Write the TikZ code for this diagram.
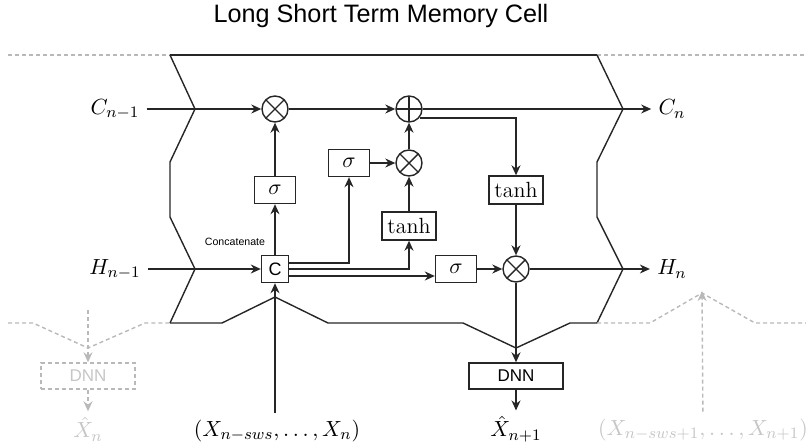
\documentclass[tikz,border=0pt]{standalone}
\usepackage{fontspec}
\setsansfont{Liberation Sans}
\usepackage{amsmath}
\usetikzlibrary{arrows.meta, calc, positioning}

\begin{document}
\begin{tikzpicture}[>={Stealth[length=5pt,width=4.5pt]}, x=0.5pt, y=-0.5pt,
    line width=0.7pt, draw=black!85,
    gate/.style={draw, minimum width=20.5pt, minimum height=13.5pt, inner sep=1pt, font=\fontsize{11}{13}\selectfont},
    tanhbox/.style={gate, minimum width=27pt, minimum height=14pt},
    catbox/.style={gate, minimum width=13.5pt, font=\sffamily\fontsize{9}{10}\selectfont},
    dnnbox/.style={gate, minimum width=47pt, minimum height=13pt, font=\sffamily\fontsize{8.5}{10}\selectfont},
    mul/.style={circle, draw, minimum size=13pt, inner sep=0pt,
        path picture={\draw ([shift={(45:7pt)}]path picture bounding box.center) -- ([shift={(225:7pt)}]path picture bounding box.center)
                            ([shift={(135:7pt)}]path picture bounding box.center) -- ([shift={(-45:7pt)}]path picture bounding box.center);}},
    add/.style={circle, draw, minimum size=13pt, inner sep=0pt,
        path picture={\draw (path picture bounding box.north) -- (path picture bounding box.south)
                            (path picture bounding box.west) -- (path picture bounding box.east);}},
    ghost/.style={gray!55, dash pattern=on 2pt off 1.5pt},
    ghosttext/.style={text=gray!45},
    lbl/.style={font=\fontsize{11}{13}\selectfont}]
    \useasboundingbox (0,0) rectangle (806,444);

    % titel
    \node[font=\sffamily\fontsize{12.6}{15}\selectfont] (title) at (381,16) {Long Short Term Memory Cell};

    % cell outline
    \draw[ghost] (8,55) -- (170,55);
    \draw (170,55) -- (597,55);
    \draw[ghost] (597,55) -- (806,55);
    \draw (170,55) -- (195,109) -- (170,162) -- (170,217) -- (195,269) -- (170,323);
    \draw (597,55) -- (623,109) -- (597,162) -- (597,217) -- (623,269) -- (597,323);
    \draw (170,323) -- (222,323) -- (275,297) -- (328,323) -- (463,323) -- (516,348) -- (570,323) -- (597,323);
    \draw[ghost] (8,323) -- (33,323) -- (88,348) -- (145,323) -- (170,323);
    \draw[ghost] (597,323) -- (650,323) -- (702,293) -- (755,323) -- (806,323);

    % gates
    \node[mul] (m1) at (275,109) {};
    \node[add] (plus) at (409,109) {};
    \node[mul] (m2) at (409,163) {};
    \node[mul] (m3) at (516,269) {};
    \node[gate] (s1) at (275,190) {$\sigma$};
    \node[gate] (s2) at (349,163) {$\sigma$};
    \node[gate] (s3) at (456,269) {$\sigma$};
    \node[tanhbox] (t1) at (409,226) {$\tanh$};
    \node[tanhbox] (t2) at (516,190) {$\tanh$};
    \node[catbox] (cat) at (275,269) {C};
    \node[font=\sffamily\fontsize{5.3}{6}\selectfont] (catlbl) at (235,242) {Concatenate};
    \node[dnnbox] (dnn) at (516,376) {DNN};

    % labels
    \node[lbl] (cprev) at (115,109) {$C_{n-1}$};
    \node[lbl] (hprev) at (115,269) {$H_{n-1}$};
    \node[lbl] (cnext) at (672,109) {$C_n$};
    \node[lbl] (hnext) at (672,269) {$H_n$};
    \node[lbl] (xin) at (277,431) {$(X_{n-sws},\dots,X_n)$};
    \node[lbl, inner sep=1pt] (xhat) at (516,429) {$\hat{X}_{n+1}$};

    % connectors
    \draw[->] (cprev) -- (m1);
    \draw[->] (m1) -- (plus);
    \draw[->] (plus) -- (cnext);
    \draw[->] (hprev) -- (cat);
    \draw[->] (xin.north -| cat) -- (cat);
    \draw[->] (cat) -- (s1);
    \draw[->] (s1) -- (m1);
    \draw[->] ([yshift=3pt]cat.east) -| (s2);
    \draw[->] (cat.east) -| (t1);
    \draw[->] ([yshift=-3.5pt]cat.east) -- ([yshift=-3.5pt]s3.west);
    \draw[->] (s2) -- (m2);
    \draw[->] (t1) -- (m2);
    \draw[->] (m2) -- (plus);
    \draw[->] (plus.-40) -| (t2);
    \draw[->] (t2) -- (m3);
    \draw[->] (s3) -- (m3);
    \draw[->] (m3) -- (hnext);
    \draw[->] (m3) -- (dnn);
    \draw[->, shorten >=1.5pt] (dnn) -- (xhat);

    % neighbouring cells
    \coordinate (gtop) at (88,310);
    \coordinate (gpeak) at (702,291);
    \node[dnnbox, draw=gray!55, dash pattern=on 2pt off 1.5pt, ghosttext] (gdnn) at (88,376) {DNN};
    \node[lbl, ghosttext, inner sep=1pt] (gxhat) at (88,429) {$\hat{X}_n$};
    \node[lbl, ghosttext] (gxin) at (703,430) {$(X_{n-sws+1},\dots,X_{n+1})$};
    \draw[ghost, ->] (gtop) -- (gdnn);
    \draw[ghost, ->, shorten >=1.5pt] (gdnn) -- (gxhat);
    \draw[ghost, ->] (gxin) -- (gpeak);
\end{tikzpicture}
\end{document}
